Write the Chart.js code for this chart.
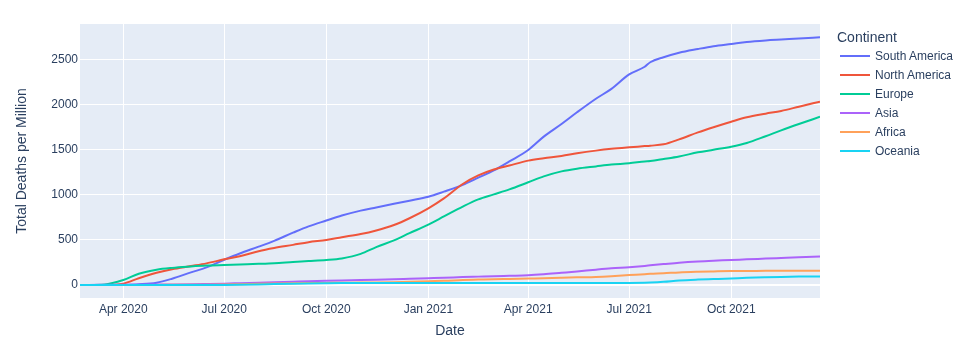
<!DOCTYPE html>
<html>
<head>
<meta charset="utf-8">
<script src="https://cdn.jsdelivr.net/npm/chart.js@4.4.1/dist/chart.umd.min.js"></script>
<style>
  html, body { margin: 0; padding: 0; background: #fff; }
  #wrap { position: relative; width: 960px; height: 340px; }
  #legend { position: absolute; left: 0; top: 0; width: 960px; height: 340px; pointer-events: none;
            font-family: "Liberation Sans", Arial, sans-serif; color: #2a3f5f; }
  #legend .ttl { position: absolute; left: 837px; top: 29px; font-size: 14px; line-height: 16px; white-space: nowrap; }
  #legend .ln { position: absolute; left: 840px; width: 30px; height: 2px; }
  #legend .lb { position: absolute; left: 875px; font-size: 12px; line-height: 14px; white-space: nowrap; }
</style>
</head>
<body>
<div id="wrap">
  <canvas id="c" width="960" height="340"></canvas>
  <div id="legend"></div>
</div>
<script>
// ---- data ----
const dates = [
  '2020-02-22','2020-03-01','2020-03-15','2020-04-01','2020-04-15','2020-05-01','2020-05-15',
  '2020-06-01','2020-06-15','2020-07-01','2020-07-15','2020-08-01','2020-08-15','2020-09-01',
  '2020-09-15','2020-10-01','2020-10-15','2020-11-01','2020-11-15','2020-12-01','2020-12-15',
  '2021-01-01','2021-01-15','2021-02-01','2021-02-15','2021-03-01','2021-03-15','2021-04-01',
  '2021-04-15','2021-05-01','2021-05-15','2021-06-01','2021-06-15','2021-07-01','2021-07-15',
  '2021-07-20','2021-08-01','2021-08-15','2021-09-01','2021-09-15','2021-10-01','2021-10-15',
  '2021-11-01','2021-11-15','2021-12-01','2021-12-20'
];
const southAmerica = [0,0,0,2,8,25,70,140,195,280,350,425,490,580,650,715,770,825,860,900,935,
  979,1035,1110,1190,1270,1370,1497,1645,1785,1915,2065,2175,2335,2420,2470,2525,2575,2617,2648,2673,2695,2712,2722,2733,2747];
const northAmerica = [0,0,0,15,75,135,175,210,240,285,320,375,410,445,475,500,530,565,605,665,740,
  850,960,1120,1215,1280,1325,1379,1405,1430,1460,1490,1510,1527,1540,1545,1560,1615,1693,1750,1811,1860,1900,1930,1977,2033];
const europe = [0,0,5,55,125,170,190,205,215,222,228,235,242,255,265,277,295,345,420,495,575,
  670,760,870,950,1005,1060,1139,1205,1260,1290,1315,1335,1350,1370,1375,1397,1425,1471,1500,1534,1575,1650,1715,1785,1865];
const asia = [1,1,2,3,4,5,6,8,11,15,20,26,31,37,42,47,51,55,59,64,69,
  75,80,88,93,98,102,107,118,135,150,170,185,198,212,218,232,248,262,270,277,285,293,300,308,317];
const africa = [0,0,0,0,1,1,2,3,4,6,9,13,16,19,21,23,25,27,29,32,36,
  42,46,55,60,65,68,72,75,80,85,90,98,110,120,124,130,140,147,151,155,156,157,158,158,159];
const oceania = [0,0,0,0,1,1,1,1,1,1,2,5,10,15,18,20,21,21,21,21,21,
  21,21,21,21,21,21,22,22,22,22,22,22,23,26,28,36,50,60,66,73,80,86,90,93,95];

const seriesNames = ['South America','North America','Europe','Asia','Africa','Oceania'];
const seriesColors = ['#636efa','#EF553B','#00cc96','#ab63fa','#FFA15A','#19d3f3'];
const seriesValues = [southAmerica, northAmerica, europe, asia, africa, oceania];

const xTickDates = ['2020-04-01','2020-07-01','2020-10-01','2021-01-01','2021-04-01','2021-07-01','2021-10-01'];
const xTickLabels = ['Apr 2020','Jul 2020','Oct 2020','Jan 2021','Apr 2021','Jul 2021','Oct 2021'];
const yTicks = [0, 500, 1000, 1500, 2000, 2500];
const legendTitle = 'Continent';

// ---- helpers ----
const EPOCH = Date.parse('2020-01-01T00:00:00Z');
const dayOf = s => Math.round((Date.parse(s + 'T00:00:00Z') - EPOCH) / 86400000);
const xs = dates.map(dayOf);
const xTickDays = xTickDates.map(dayOf);
const FONT = '"Liberation Sans", Arial, sans-serif';
const TXT = '#2a3f5f';

const datasets = seriesNames.map((name, i) => ({
  label: name,
  data: xs.map((x, j) => ({ x: x, y: seriesValues[i][j] })),
  borderColor: seriesColors[i],
  backgroundColor: seriesColors[i],
  borderWidth: 2,
  pointRadius: 0,
  fill: false,
  cubicInterpolationMode: 'monotone',
  order: seriesNames.length - 1 - i
}));

const bgPlugin = {
  id: 'plotBg',
  beforeDraw(chart) {
    const { ctx, chartArea: a } = chart;
    ctx.save();
    ctx.fillStyle = '#E5ECF6';
    ctx.fillRect(a.left, a.top, a.right - a.left, a.bottom - a.top);
    ctx.restore();
  }
};

new Chart(document.getElementById('c'), {
  type: 'line',
  data: { datasets },
  plugins: [bgPlugin],
  options: {
    responsive: false,
    animation: false,
    devicePixelRatio: 1,
    layout: { padding: { left: 0, right: 140, top: 24, bottom: 0 } },
    plugins: { legend: { display: false }, tooltip: { enabled: false } },
    scales: {
      x: {
        type: 'linear',
        min: xs[0],
        max: xs[xs.length - 1],
        afterBuildTicks: s => { s.ticks = xTickDays.map(v => ({ value: v })); },
        afterFit: s => { s.height = 42; },
        grid: { color: '#ffffff', lineWidth: 1, drawTicks: false },
        border: { display: false },
        ticks: {
          autoSkip: false, maxRotation: 0, padding: 4,
          color: TXT, font: { family: FONT, size: 12 },
          callback: v => { const k = xTickDays.indexOf(v); return k >= 0 ? xTickLabels[k] : ''; }
        },
        title: { display: true, text: 'Date', color: TXT, font: { family: FONT, size: 14 }, padding: { top: 0, bottom: 0 } }
      },
      y: {
        type: 'linear',
        min: -144,
        max: 2894,
        afterBuildTicks: s => { s.ticks = yTicks.map(v => ({ value: v })); },
        afterFit: s => { s.width = 80; },
        grid: {
          color: '#ffffff', drawTicks: false,
          lineWidth: c => (c.tick && c.tick.value === 0) ? 2 : 1
        },
        border: { display: false },
        ticks: { padding: 2, color: TXT, font: { family: FONT, size: 12 }, callback: v => String(v) },
        title: { display: true, text: 'Total Deaths per Million', color: TXT, font: { family: FONT, size: 14 }, padding: { top: 14, bottom: 0 } }
      }
    }
  }
});

// ---- legend (HTML, built from the series arrays) ----
const lg = document.getElementById('legend');
const t = document.createElement('div');
t.className = 'ttl'; t.textContent = legendTitle; lg.appendChild(t);
seriesNames.forEach((name, i) => {
  const yc = 55.7 + i * 19.1;
  const ln = document.createElement('div');
  ln.className = 'ln'; ln.style.top = (yc - 1) + 'px'; ln.style.background = seriesColors[i];
  lg.appendChild(ln);
  const lb = document.createElement('div');
  lb.className = 'lb'; lb.style.top = (yc - 7) + 'px'; lb.textContent = name;
  lg.appendChild(lb);
});
</script>
</body>
</html>
